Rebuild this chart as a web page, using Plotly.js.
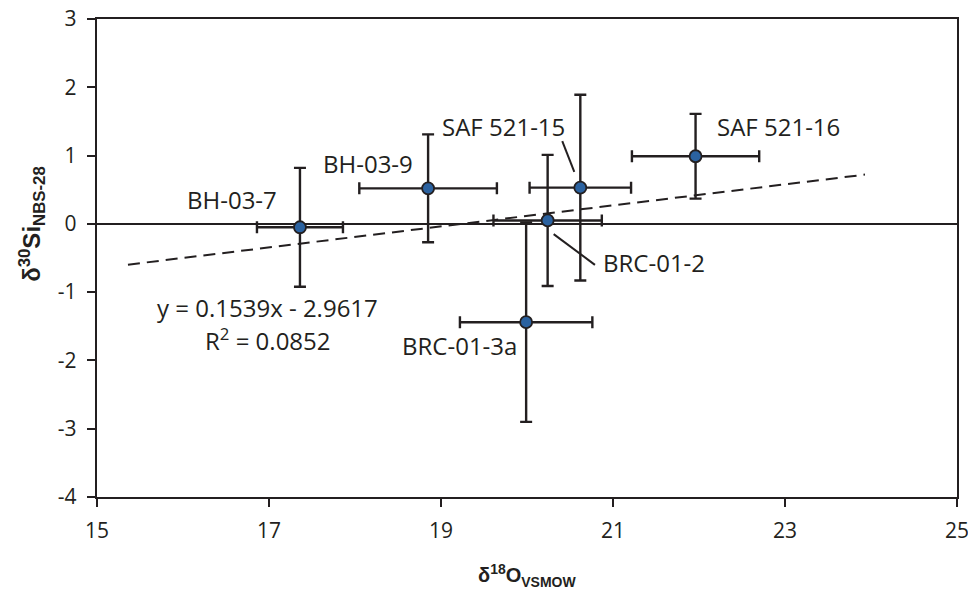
<!DOCTYPE html>
<html>
<head>
<meta charset="utf-8">
<script src="https://cdn.plot.ly/plotly-3.0.1.min.js"></script>
<style>html,body{margin:0;padding:0;background:#fff;}#chart{width:968px;height:592px;}</style>
</head>
<body>
<div id="chart"></div>
<script>
// Sample data
const sampleNames = ["BH-03-7", "BH-03-9", "SAF 521-15", "BRC-01-2", "SAF 521-16", "BRC-01-3a"];
const d18O      = [17.36, 18.85, 20.62, 20.24, 21.96, 19.99];
const d18OErr   = [0.50, 0.80, 0.59, 0.63, 0.74, 0.77];
const d30Si     = [-0.05, 0.52, 0.53, 0.05, 0.99, -1.44];
const d30SiErr  = [0.87, 0.79, 1.36, 0.96, 0.62, 1.46];

// Axis ticks
const xTickVals = [15, 17, 19, 21, 23, 25];
const xTickText = ["15", "17", "19", "21", "23", "25"];
const yTickVals = [-4, -3, -2, -1, 0, 1, 2, 3];
const yTickText = ["-4", "-3", "-2", "-1", "0", "1", "2", "3"];

// Linear trendline shown in the chart
const trendSlope = 0.1539;
const trendIntercept = -2.9617;
const trendXRange = [15.36, 23.93];
const trendY = trendXRange.map(x => trendSlope * x + trendIntercept);

const ink = '#231f20';
const fontFam = '"Open Sans", "Noto Sans", sans-serif';
const titleFam = '"Liberation Sans", Arial, sans-serif';

const traces = [
  {
    x: trendXRange, y: trendY, mode: 'lines', type: 'scatter',
    line: {color: ink, width: 2, dash: '12px,7px'},
    hoverinfo: 'skip', showlegend: false
  },
  {
    x: d18O, y: d30Si, text: sampleNames, mode: 'markers', type: 'scatter',
    marker: {size: 12, color: '#2b62a0', line: {color: ink, width: 1.8}},
    error_x: {type: 'data', array: d18OErr, visible: true, color: ink, thickness: 2.4, width: 6},
    error_y: {type: 'data', array: d30SiErr, visible: true, color: ink, thickness: 2.4, width: 6},
    showlegend: false
  }
];

const labelFont = {family: fontFam, size: 24, color: ink};
function lab(text, x, y, xanchor) {
  return {text: text, x: x, y: y, xref: 'x', yref: 'y', showarrow: false,
          xanchor: xanchor || 'center', yanchor: 'middle', font: labelFont};
}

const layout = {
  width: 968, height: 592,
  margin: {l: 97, r: 11, t: 19, b: 95},
  paper_bgcolor: '#fff', plot_bgcolor: '#fff',
  font: {family: fontFam, color: ink},
  xaxis: {
    range: [15, 25], tickmode: 'array', tickvals: xTickVals, ticktext: xTickText,
    showgrid: false, zeroline: false,
    showline: true, linecolor: ink, linewidth: 2.2, mirror: true,
    ticks: 'outside', ticklen: 8, tickwidth: 2, tickcolor: ink, ticklabelstandoff: 6,
    ticklabeloverflow: 'allow',
    tickfont: {family: fontFam, size: 21, color: ink}
  },
  yaxis: {
    range: [-4, 3], tickmode: 'array', tickvals: yTickVals, ticktext: yTickText,
    showgrid: false,
    zeroline: true, zerolinecolor: ink, zerolinewidth: 2,
    showline: true, linecolor: ink, linewidth: 2.2, mirror: true,
    ticks: 'outside', ticklen: 8, tickwidth: 2, tickcolor: ink, ticklabelstandoff: 6,
    ticklabeloverflow: 'allow',
    tickfont: {family: fontFam, size: 21, color: ink}
  },
  annotations: [
    lab('BH-03-7', 16.57, 0.35),
    lab('BH-03-9', 18.15, 0.88),
    lab('SAF 521-15', 19.73, 1.43),
    lab('SAF 521-16', 22.92, 1.43),
    lab('BRC-01-2', 20.86, -0.56, 'left'),
    lab('BRC-01-3a', 19.21, -1.78),
    lab('y = 0.1539x - 2.9617', 16.98, -1.23),
    lab('R<sup>2</sup> = 0.0852', 16.99, -1.69),
    // axis titles
    {text: '<b>δ<sup>30</sup>Si<sub>NBS-28</sub></b>', xref: 'paper', yref: 'y', x: 0, y: 0,
     xanchor: 'center', yanchor: 'middle', xshift: -65, textangle: -90, showarrow: false,
     font: {family: titleFam, size: 24, color: ink}},
    {text: '<b>δ<sup>18</sup>O<sub>VSMOW</sub></b>', xref: 'paper', yref: 'paper', x: 0.5, y: 0,
     xanchor: 'center', yanchor: 'middle', yshift: -78, showarrow: false,
     font: {family: titleFam, size: 20, color: ink}}
  ],
  shapes: [
    {type: 'line', xref: 'x', yref: 'y', x0: 20.41, y0: 1.21, x1: 20.55, y1: 0.76, line: {color: ink, width: 2}},
    {type: 'line', xref: 'x', yref: 'y', x0: 20.31, y0: -0.15, x1: 20.79, y1: -0.60, line: {color: ink, width: 2}}
  ]
};

Plotly.newPlot('chart', traces, layout, {displayModeBar: false, staticPlot: true});
</script>
</body>
</html>
